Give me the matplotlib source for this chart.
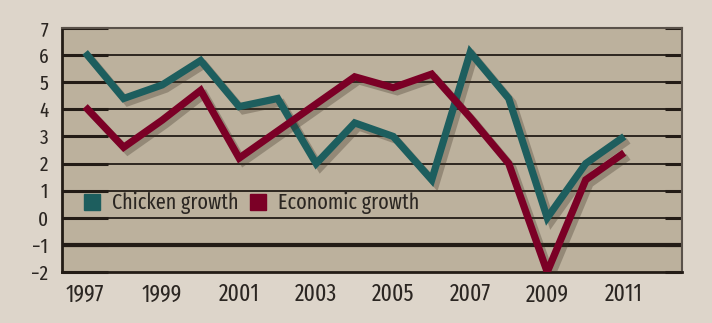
import matplotlib
matplotlib.use('Agg')
import matplotlib.pyplot as plt
import matplotlib.patheffects as pe

years = list(range(1997, 2012))
chicken_growth = [6.1, 4.4, 4.9, 5.8, 4.1, 4.4, 2.0, 3.5, 3.0, 1.4, 6.1, 4.4, 0.0, 2.0, 3.0]
economic_growth = [4.1, 2.6, 3.6, 4.7, 2.2, 3.2, 4.2, 5.2, 4.8, 5.3, 3.7, 2.0, -2.0, 1.4, 2.4]
xticks = list(range(1997, 2012, 2))
yticks = list(range(-2, 8))

plt.rcParams['font.family'] = ['Fira Sans Extra Condensed', 'DejaVu Sans']

bg = '#ddd5ca'
panel = '#bcb19d'
teal = '#1d5e5e'
crimson = '#7b0026'
ink = '#2b2622'

fig = plt.figure(figsize=(7.12, 3.23), dpi=100, facecolor=bg)
ax = fig.add_axes([0.0871, 0.1579, 0.8708, 0.7554], facecolor=panel)

# horizontal rules
for y in yticks[1:-1]:
    ax.axhline(y, color='#231c16', lw=3 if y == -1 else 1.3, zorder=1)

shadow = [pe.SimpleLineShadow(offset=(3, -3), shadow_color='#3a2f22', alpha=0.3),
          pe.Normal()]
ax.plot(years, chicken_growth, color=teal, lw=5.2, solid_joinstyle='miter',
        solid_capstyle='butt', label='Chicken growth', zorder=3, path_effects=shadow)
ax.plot(years, economic_growth, color=crimson, lw=5.2, solid_joinstyle='miter',
        solid_capstyle='butt', label='Economic growth', zorder=3, path_effects=shadow)

ax.set_xlim(1996.4, 2012.5)
ax.set_ylim(-2, 7)
ax.set_xticks(xticks)
ax.set_yticks(yticks)
ax.tick_params(axis='y', direction='in', length=12, width=2.2, color='#231c16',
               left=True, right=True, labelsize=15, labelcolor=ink, pad=10)
ax.tick_params(axis='x', length=0, labelsize=17, labelcolor=ink, pad=8)

for side in ['top', 'right']:
    ax.spines[side].set_color('#5a524a')
    ax.spines[side].set_linewidth(1.5)
for side in ['left', 'bottom']:
    ax.spines[side].set_color('#231c16')
    ax.spines[side].set_linewidth(2)

# longer inner marks on the right edge
for tl in ax.yaxis.get_ticklines():
    if tl.get_marker() == 1:
        tl.set_markersize(33)

handles = [plt.Line2D([], [], marker='s', ls='', ms=11.5, color=c) for c in (teal, crimson)]
ax.legend(handles, ['Chicken growth', 'Economic growth'], loc='center left',
          bbox_to_anchor=(0.008, 0.283), ncol=2, frameon=False, fontsize=15.8,
          handlelength=0.9, handletextpad=0.45, columnspacing=0.45, borderpad=0.2,
          labelcolor=ink)

fig.savefig('out.png', dpi=100, facecolor=bg)
